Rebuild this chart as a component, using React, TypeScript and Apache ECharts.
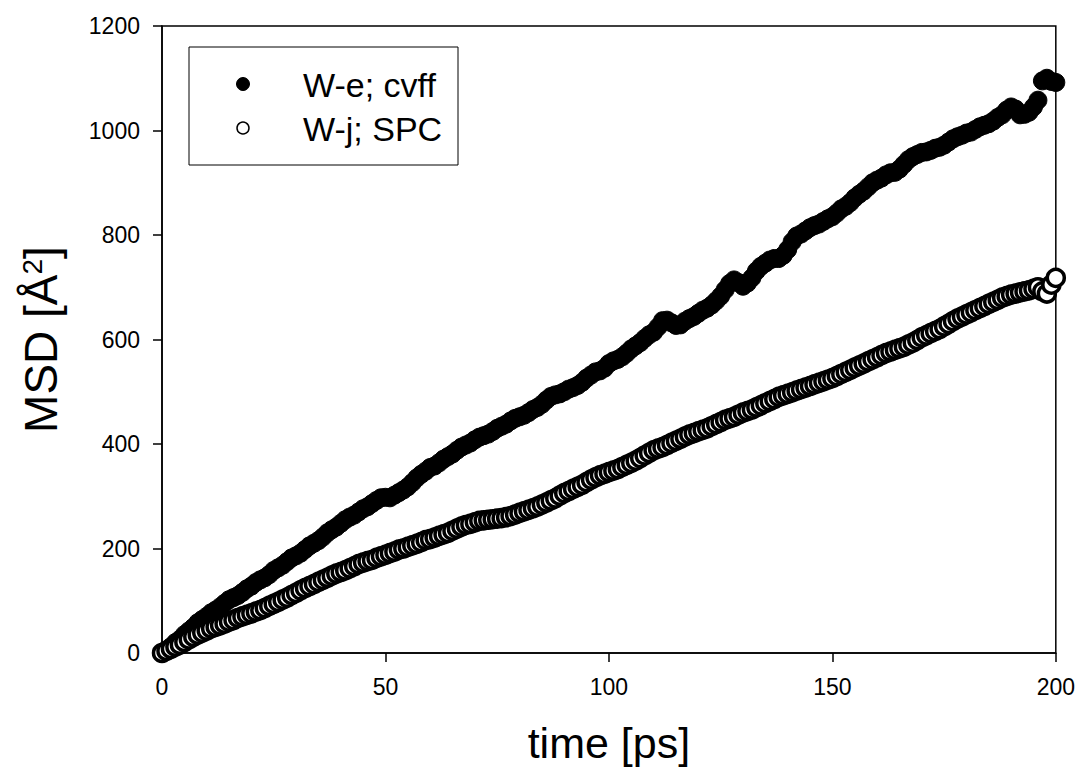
import React, { useEffect, useRef } from "react";
import * as echarts from "echarts";

const times = [
  0, 1, 2, 3, 4, 5, 6, 7, 8, 9, 10, 11, 12, 13, 14, 15, 16, 17, 18, 19, 20,
  21, 22, 23, 24, 25, 26, 27, 28, 29, 30, 31, 32, 33, 34, 35, 36, 37, 38, 39, 40,
  41, 42, 43, 44, 45, 46, 47, 48, 49, 50, 51, 52, 53, 54, 55, 56, 57, 58, 59, 60,
  61, 62, 63, 64, 65, 66, 67, 68, 69, 70, 71, 72, 73, 74, 75, 76, 77, 78, 79, 80,
  81, 82, 83, 84, 85, 86, 87, 88, 89, 90, 91, 92, 93, 94, 95, 96, 97, 98, 99, 100,
  101, 102, 103, 104, 105, 106, 107, 108, 109, 110, 111, 112, 113, 114, 115, 116, 117, 118, 119, 120,
  121, 122, 123, 124, 125, 126, 127, 128, 129, 130, 131, 132, 133, 134, 135, 136, 137, 138, 139, 140,
  141, 142, 143, 144, 145, 146, 147, 148, 149, 150, 151, 152, 153, 154, 155, 156, 157, 158, 159, 160,
  161, 162, 163, 164, 165, 166, 167, 168, 169, 170, 171, 172, 173, 174, 175, 176, 177, 178, 179, 180,
  181, 182, 183, 184, 185, 186, 187, 188, 189, 190, 191, 192, 193, 194, 195, 196, 197, 198, 199, 200,
];

const msdCvff = [
  0, 6, 12, 20, 26, 35, 42, 49, 58, 64, 70, 77, 82, 88, 95, 102, 106, 110, 116, 123, 128,
  135, 140, 144, 150, 158, 163, 168, 175, 182, 186, 191, 198, 205, 210, 215, 222, 230, 236, 241, 248,
  255, 260, 264, 270, 276, 280, 286, 292, 297, 298, 297, 302, 307, 312, 318, 326, 335, 342, 348, 355,
  358, 364, 371, 376, 381, 388, 394, 398, 402, 408, 413, 416, 419, 424, 430, 434, 438, 444, 449, 452,
  455, 460, 466, 470, 476, 484, 491, 494, 496, 500, 505, 508, 512, 518, 526, 532, 538, 540, 545, 554,
  559, 562, 567, 574, 582, 588, 594, 602, 609, 614, 624, 636, 637, 632, 627, 628, 635, 640, 644, 650,
  656, 660, 666, 674, 683, 695, 707, 714, 709, 702, 708, 718, 731, 740, 746, 752, 755, 755, 761, 772,
  787, 798, 802, 808, 814, 818, 821, 826, 831, 835, 842, 850, 855, 862, 871, 878, 884, 892, 900, 905,
  909, 915, 919, 920, 926, 935, 944, 950, 954, 958, 959, 962, 966, 968, 972, 978, 984, 988, 991, 995,
  997, 1002, 1007, 1010, 1013, 1018, 1025, 1030, 1039, 1045, 1041, 1030, 1031, 1035, 1045, 1058, 1095, 1100, 1094, 1092,
];

const msdSpc = [
  0, 4, 8, 12, 16, 21, 26, 31, 35, 39, 43, 47, 50, 53, 56, 60, 63, 67, 70, 73, 76,
  79, 82, 86, 90, 94, 98, 102, 106, 111, 115, 120, 124, 128, 132, 136, 140, 144, 148, 152, 155,
  158, 162, 166, 170, 173, 176, 178, 182, 185, 188, 191, 194, 198, 200, 203, 206, 209, 212, 216, 218,
  221, 224, 227, 230, 234, 238, 242, 245, 247, 250, 253, 254, 255, 256, 257, 258, 260, 262, 265, 268,
  271, 274, 277, 280, 284, 288, 292, 296, 301, 306, 310, 314, 318, 322, 327, 332, 336, 340, 343, 346,
  349, 352, 356, 360, 364, 368, 373, 378, 383, 388, 391, 394, 398, 402, 406, 410, 414, 418, 421, 424,
  427, 430, 434, 438, 442, 446, 449, 452, 456, 460, 463, 466, 470, 474, 478, 482, 486, 490, 493, 496,
  499, 502, 505, 508, 511, 514, 517, 520, 523, 526, 530, 534, 538, 542, 546, 550, 554, 558, 562, 566,
  570, 574, 577, 580, 583, 586, 590, 594, 599, 604, 608, 612, 616, 620, 625, 630, 635, 640, 644, 648,
  652, 656, 660, 664, 668, 672, 676, 680, 683, 686, 688, 690, 692, 694, 697, 700, 692, 688, 705, 718,
];

const seriesNames = ["W-e; cvff", "W-j; SPC"];
const xTicks = { min: 0, max: 200, interval: 50 };
const yTicks = { min: 0, max: 1200, interval: 200 };

const FONT = "'Liberation Sans', Arial, sans-serif";

export default function App() {
  const ref = useRef<HTMLDivElement>(null);
  useEffect(() => {
    if (!ref.current) return;
    const chart = echarts.init(ref.current, null, { renderer: "svg" });
    const pair = (vals: number[]) => times.map((t, i) => [t, vals[i]]);
    chart.setOption({
      animation: false,
      backgroundColor: "#fff",
      textStyle: { fontFamily: FONT, color: "#000" },
      grid: {
        left: 162,
        right: 22,
        top: 26,
        bottom: 120,
        show: true,
        borderColor: "#000",
        borderWidth: 1.5,
        backgroundColor: "transparent",
      },
      graphic: [
        {
          type: "group",
          z: 100,
          children: [
            {
              type: "rect",
              shape: { x: 189, y: 47, width: 269, height: 118 },
              style: { fill: "#fff", stroke: "#000", lineWidth: 1 },
            },
            {
              type: "circle",
              shape: { cx: 243, cy: 84, r: 6.5 },
              style: { fill: "#000", stroke: "#000", lineWidth: 1 },
            },
            {
              type: "circle",
              shape: { cx: 243, cy: 128, r: 6 },
              style: { fill: "#fff", stroke: "#000", lineWidth: 1.5 },
            },
            {
              type: "text",
              x: 303,
              y: 85,
              style: {
                text: seriesNames[0],
                fontFamily: FONT,
                fontSize: 34,
                fill: "#000",
                verticalAlign: "middle",
                align: "left",
              },
            },
            {
              type: "text",
              x: 303,
              y: 129,
              style: {
                text: seriesNames[1],
                fontFamily: FONT,
                fontSize: 34,
                fill: "#000",
                verticalAlign: "middle",
                align: "left",
              },
            },
          ],
        },
      ],
      xAxis: {
        type: "value",
        min: xTicks.min,
        max: xTicks.max,
        interval: xTicks.interval,
        name: "time [ps]",
        nameLocation: "middle",
        nameGap: 68,
        nameTextStyle: { fontFamily: FONT, fontSize: 43, color: "#000" },
        axisLine: { show: true, lineStyle: { color: "#000", width: 1.5 } },
        axisTick: { show: true, inside: false, length: 9, lineStyle: { color: "#000", width: 1.5 } },
        axisLabel: { fontFamily: FONT, fontSize: 23, color: "#000", margin: 22 },
        splitLine: { show: false },
      },
      yAxis: {
        type: "value",
        min: yTicks.min,
        max: yTicks.max,
        interval: yTicks.interval,
        name: "MSD [Å{sup|2}]",
        nameLocation: "middle",
        nameGap: 98,
        nameTextStyle: {
          fontFamily: FONT,
          fontSize: 46,
          color: "#000",
          rich: {
            sup: { fontFamily: FONT, fontSize: 28, color: "#000", verticalAlign: "top", lineHeight: 28 },
          },
        },
        axisLine: { show: true, lineStyle: { color: "#000", width: 1.5 } },
        axisTick: { show: true, inside: false, length: 9, lineStyle: { color: "#000", width: 1.5 } },
        axisLabel: {
          fontFamily: FONT,
          fontSize: 23,
          color: "#000",
          margin: 22,
          formatter: (v: number) => String(v),
        },
        splitLine: { show: false },
      },
      series: [
        {
          name: seriesNames[0],
          type: "scatter",
          symbol: "circle",
          symbolSize: 18,
          data: pair(msdCvff),
          itemStyle: { color: "#000", borderColor: "#000", borderWidth: 1, opacity: 1 },
        },
        {
          name: seriesNames[1],
          type: "scatter",
          symbol: "circle",
          symbolSize: 17,
          data: pair(msdSpc),
          itemStyle: { color: "#fff", borderColor: "#000", borderWidth: 3.5, opacity: 1 },
        },
      ],
    });
    return () => chart.dispose();
  }, []);
  return <div ref={ref} style={{ width: 1078, height: 773, position: "absolute", left: 0, top: 0 }} />;
}
